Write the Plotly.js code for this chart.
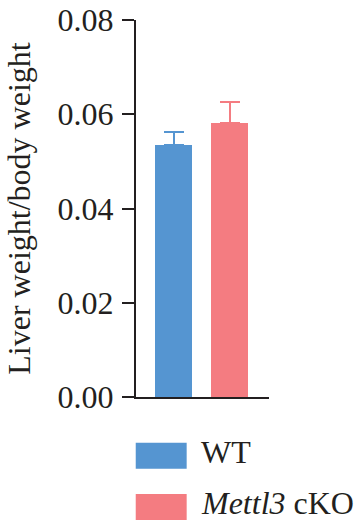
<!DOCTYPE html>
<html>
<head>
<meta charset="utf-8">
<script src="https://cdn.plot.ly/plotly-3.0.1.min.js"></script>
<style>
html,body{margin:0;padding:0;background:#fff;}
#chart{width:357px;height:527px;}
</style>
</head>
<body>
<div id="chart"></div>
<script>
// Data
const categories = ["WT", "Mettl3 cKO"];
const legendLabels = ["WT", "<i>Mettl3</i> cKO"];
const meanValues = [0.0535, 0.0582];
const errorUp = [0.0028, 0.0045];
const barColors = ["#5595d1", "#f47c81"];
const yTickVals = [0, 0.02, 0.04, 0.06, 0.08];
const yTickText = ["0.00", "0.02", "0.04", "0.06", "0.08"];

const ink = "#231f20";
const fontFam = "'Liberation Serif', 'Times New Roman', serif";

const traces = categories.map((c, i) => ({
  type: "bar",
  x: [c],
  y: [meanValues[i]],
  name: legendLabels[i],
  width: 0.66,
  marker: {color: barColors[i], line: {width: 0}},
  error_y: {
    type: "data",
    symmetric: false,
    array: [errorUp[i]],
    arrayminus: [0],
    color: barColors[i],
    thickness: 2,
    width: 10
  },
  showlegend: false,
  hoverinfo: "skip"
}));

// legend drawn as shapes + annotations (large swatches)
const swatchY = [[-0.1212, -0.190], [-0.2573, -0.3263]];
const shapes = categories.map((c, i) => ({
  type: "rect", xref: "paper", yref: "paper",
  x0: -0.002, x1: 0.381, y0: swatchY[i][1], y1: swatchY[i][0],
  fillcolor: barColors[i], line: {width: 0}
}));
const annotations = categories.map((c, i) => ({
  xref: "paper", yref: "paper",
  x: 0.47, y: (swatchY[i][0] + swatchY[i][1]) / 2 + 0.01,
  xanchor: "left", yanchor: "middle",
  text: legendLabels[i], showarrow: false,
  font: {family: fontFam, size: 32, color: ink}
}));

const layout = {
  width: 357, height: 527,
  margin: {l: 136, r: 88, t: 20, b: 130, pad: 0},
  paper_bgcolor: "#fff", plot_bgcolor: "#fff",
  showlegend: false,
  bargap: 0,
  font: {family: fontFam, size: 32, color: ink},
  xaxis: {
    type: "category",
    categoryarray: categories,
    range: [-0.67, 1.705],
    showticklabels: false,
    ticks: "",
    showline: true, linecolor: ink, linewidth: 2,
    showgrid: false, zeroline: false, fixedrange: true
  },
  yaxis: {
    range: [0, 0.08],
    tickvals: yTickVals, ticktext: yTickText,
    ticks: "outside", ticklen: 12, tickwidth: 2, tickcolor: ink,
    ticklabelstandoff: 2,
    tickfont: {family: fontFam, size: 32, color: ink},
    showline: true, linecolor: ink, linewidth: 2,
    showgrid: false, zeroline: false,
    title: {text: "Liver weight/body weight", font: {family: fontFam, size: 32, color: ink}, standoff: 17},
    fixedrange: true
  },
  shapes: shapes,
  annotations: annotations
};

Plotly.newPlot("chart", traces, layout, {staticPlot: true, displayModeBar: false});
</script>
</body>
</html>
